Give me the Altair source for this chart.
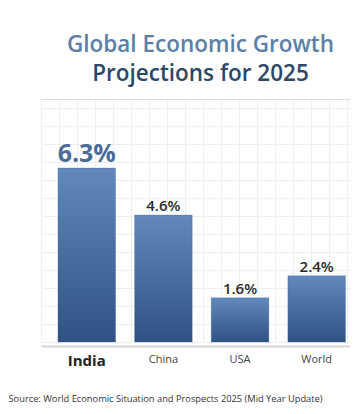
import altair as alt
import pandas as pd

countries = ["India", "China", "USA", "World"]
growth = [6.3, 4.6, 1.6, 2.4]
labels = ["6.3%", "4.6%", "1.6%", "2.4%"]
title_lines = ["Global Economic Growth", "Projections for 2025"]
source = "Source: World Economic Situation and Prospects 2025 (Mid Year Update)"

df = pd.DataFrame({"country": countries, "growth": growth, "label": labels})

W, H = 309, 243
CELL = 18
grid_df = pd.DataFrame({"gx": [0], "gy": [0]})

FONT = "Open Sans"

grid = alt.Chart(grid_df).mark_point(opacity=0).encode(
    x=alt.X("gx:Q", scale=alt.Scale(domain=[0, W / CELL], nice=False, zero=False),
            axis=alt.Axis(orient="top", grid=True, labels=False, ticks=False, domain=False,
                          title=None, values=list(range(0, 20)), gridColor="#eceef2")),
    y=alt.Y("gy:Q", scale=alt.Scale(domain=[0, H / CELL], nice=False, zero=False),
            axis=alt.Axis(orient="right", grid=True, labels=False, ticks=False, domain=False,
                          title=None, values=list(range(0, 20)), gridColor="#eceef2")),
)

x_enc = alt.X("country:N", sort=countries,
              scale=alt.Scale(paddingInner=0.248, paddingOuter=0.14, align=0.79),
              axis=alt.Axis(title=source, titleAnchor="start", titleX=-33, titleY=52,
                            titleFont=FONT, titleFontSize=9.3, titleFontWeight="normal",
                            titleColor="#333333", titleBaseline="middle",
                            labelAngle=0, labelPadding=7, ticks=False, offset=4,
                            domainColor="#d4d6da", domainWidth=2,
                            labelFont=FONT,
                            labelFontSize={"condition": {"test": "datum.value === 'India'", "value": 15}, "value": 11},
                            labelFontWeight={"condition": {"test": "datum.value === 'India'", "value": "bold"}, "value": "normal"},
                            labelColor={"condition": {"test": "datum.value === 'India'", "value": "#222222"}, "value": "#444444"}))
y_enc = alt.Y("growth:Q", scale=alt.Scale(domain=[0, 8.8], nice=False),
              axis=alt.Axis(title=None, labels=False, ticks=False, domain=False, grid=False))

bars = alt.Chart(df).mark_bar(
    color=alt.Gradient(gradient="linear",
                       stops=[alt.GradientStop(color="#6189bb", offset=0),
                              alt.GradientStop(color="#2e5283", offset=1)],
                       x1=0, x2=0, y1=0, y2=1),
    stroke="#2e5283", strokeOpacity=0.3, strokeWidth=0.8,
).encode(x=x_enc, y=y_enc)

india_lbl = alt.Chart(df).transform_filter("datum.country === 'India'").mark_text(
    font=FONT, fontSize=25, fontWeight=700, color="#4a6c96", baseline="alphabetic", dy=-6
).encode(x=x_enc, y=y_enc, text="label:N")

other_lbl = alt.Chart(df).transform_filter("datum.country !== 'India'").mark_text(
    font=FONT, fontSize=15, fontWeight=600, color="#2b2b2b", baseline="alphabetic", dy=-4
).encode(x=x_enc, y=y_enc, text="label:N")

main = alt.layer(bars, india_lbl, other_lbl)

chart = alt.layer(grid, main).resolve_scale(x="independent", y="independent").properties(
    width=W, height=H,
    autosize=alt.AutoSizeParams(type="none"),
    padding={"left": 33, "top": 91, "right": 0, "bottom": 66},
    title=alt.TitleParams(text=title_lines[0], subtitle=title_lines[1],
                          font=FONT, fontSize=22.5, fontWeight=600, color="#5b7fa8",
                          subtitleFont=FONT, subtitleFontSize=22.5, subtitleFontWeight=600,
                          subtitleColor="#2d4866", subtitlePadding=6,
                          anchor="middle", offset=14, dx=5),
).configure_view(stroke=None).configure(background="white")

chart.save("out.html", embed_options={"renderer": "svg", "actions": False})
